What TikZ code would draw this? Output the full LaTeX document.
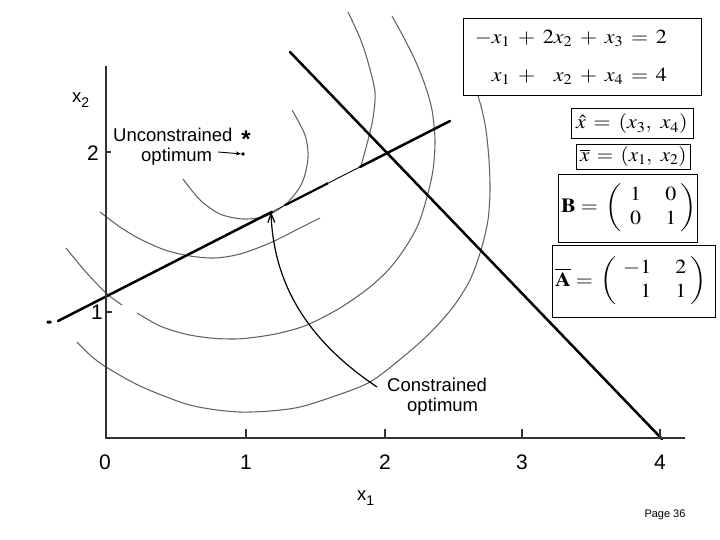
\documentclass[tikz,border=0pt]{standalone}
\usepackage{amsmath}
\usepackage{mathptmx}
\usepackage[no-math]{fontspec}
\usepackage{graphicx}
\newfontfamily\labfont{Liberation Sans}
\usetikzlibrary{arrows.meta}
\newcommand\eqgap{\hspace{7pt}}
\newcommand\vecgap{\hspace{7pt}}
\begin{document}
\begin{tikzpicture}[x=1pt,y=-1pt,
  arcline/.style={draw=black!62, line width=1.05pt},
  cline/.style={draw=black, line width=2.5pt, line cap=round},
  thinseg/.style={draw=black, line width=0.9pt},
  axisline/.style={draw=black!80, line width=1.4pt},
  lab/.style={font=\labfont\fontsize{18.5}{20}\selectfont, inner sep=0pt},
  ticklab/.style={font=\labfont\fontsize{21}{23}\selectfont, inner sep=0pt},
  box/.style={draw=black, line width=0.9pt, fill=white, inner sep=0pt},
  mathlab/.style={inner sep=0pt, font=\fontsize{20}{24}\selectfont}]
\useasboundingbox (0,0) rectangle (720,540);
\fill[white] (0,0) rectangle (720,540);

% contour arcs
\draw[arcline] plot[smooth] coordinates {(183,179) (200,200) (220,214) (243,219) (266,216) (287,203) (302,183) (308,158) (305,135) (292,110)};
\draw[arcline] plot[smooth] coordinates {(100,212) (120,227) (140,239) (165,250) (190,256) (215,258) (240,254) (270,243) (300,228) (320,218)};
\draw[arcline] plot[smooth] coordinates {(361,166) (368,140) (373,118) (375,92) (368,62) (360,38) (348,12)};
\draw[arcline] plot[smooth] coordinates {(66,248) (85,271) (106,293) (122,305)};
\draw[arcline] plot[smooth] coordinates {(137,313) (160,326) (185,334) (210,338) (235,339) (257,337) (280,333) (307,325) (340,308) (370,287) (390,268) (405,248) (418,225) (427,197) (433,170) (435,140) (432,110) (425,85) (415,60) (404,38) (392,16)};
\draw[arcline] plot[smooth] coordinates {(77,342) (90,355) (106,367) (140,386) (183,403) (210,409) (240,412) (270,411) (300,407) (335,396) (370,382) (403,357) (430,333) (453,307) (470,280) (481,250) (488,220) (490,190) (489,160) (486,130) (482,110) (478,96)};

% constraint lines
\coordinate (L1a) at (58,321);
\coordinate (L1b) at (272,211.8);
\coordinate (L1c) at (285,205.2);
\coordinate (L1d) at (328,183.2);
\coordinate (L1e) at (360,166.9);
\coordinate (L1f) at (450,121);
\draw[cline] (L1a) -- (L1b);
\draw[thinseg, line width=0.5pt] (L1b) -- (L1c);
\draw[cline, line width=2.2pt, line cap=butt] (L1c) -- (L1d);
\draw[thinseg] (L1d) -- (L1e);
\draw[cline] (L1e) -- (L1f);
\coordinate (L2a) at (290,52);
\coordinate (L2b) at (662,439);
\draw[cline] (L2a) -- (L2b);
\node[fill=black, inner sep=0pt, minimum width=5pt, minimum height=3pt, rounded corners=1pt] (ldot) at (49,322) {};

% axes
\coordinate (O) at (106,438);
\coordinate (Ytop) at (106,66);
\coordinate (Xend) at (685,438);
\draw[axisline] (Ytop) -- (O) -- (Xend);
\foreach \xx in {246,385,522,660} \draw[axisline, line width=1.1pt] (\xx,438) -- (\xx,429);
\draw[axisline, line width=1.1pt] (106,152) -- (111,152);
\draw[axisline, line width=1.1pt] (106,312) -- (112,312);

\node[ticklab] (t0) at (105,462) {0};
\node[ticklab] (t1) at (246,462) {1};
\node[ticklab] (t2) at (385,462) {2};
\node[ticklab] (t3) at (522,462) {3};
\node[ticklab] (t4) at (660,462) {4};
\node[ticklab] (ty2) at (93,153) {2};
\node[ticklab] (ty1) at (97,312) {1};
\node[lab, anchor=base west] (xlab2) at (72,103) {x\raisebox{-5pt}{\fontsize{14}{14}\selectfont 2}};
\node[lab, anchor=base west] (xlab1) at (357,500) {x\raisebox{-5pt}{\fontsize{14}{14}\selectfont 1}};

% optimum labels
\node[lab, anchor=base west, text depth=0pt] (uncon) at (113,142) {Unconstrained};
\node[anchor=base, inner sep=0pt, font=\labfont\bfseries\fontsize{24}{24}\selectfont] (star) at (246,148) {*};
\node[lab, anchor=base west, text height=11pt] (uoptlab) at (141,162) {optimum};
\node[circle, fill=black, inner sep=0pt, minimum size=3.6pt] (uopt) at (243,154) {};
\coordinate (uarr) at (218,152);
\draw[line width=0.9pt, -{Stealth[length=5pt,width=4pt]}] (uarr) -- (uopt);

\node[lab, anchor=base west, text depth=0pt] (con) at (387,391) {Constrained};
\node[lab, anchor=base west, text height=11pt] (conopt) at (407,411) {optimum};
\coordinate (conA) at (377,387);
\coordinate (conB) at (271,212);
\draw[black, line width=1.2pt, -{Straight Barb[length=9pt,width=7pt]}] (conA) .. controls (325,352) and (274,300) .. (conB);

% boxes on the right
\node[box, minimum width=238pt, minimum height=77pt] (eqbox) at (582,56.5) {};
\node[box, minimum width=122pt, minimum height=30pt] (xhatbox) at (632,123) {};
\node[box, minimum width=114pt, minimum height=25pt] (xbarbox) at (633,156.5) {};
\node[box, minimum width=139pt, minimum height=68pt] (Bbox) at (627.5,208) {};
\node[box, minimum width=163pt, minimum height=72pt] (Abox) at (633.5,281) {};

\node[mathlab, anchor=east] (eq1) at (667,38) {\scalebox{1.1}[1]{$-x_1\eqgap{+}\eqgap 2x_2\eqgap{+}\eqgap x_3\eqgap{=}\eqgap 2$}};
\node[mathlab, anchor=east] (eq2) at (667,76) {\scalebox{1.1}[1]{$x_1\eqgap{+}\eqgap\phantom{2}x_2\eqgap{+}\eqgap x_4\eqgap{=}\eqgap 4$}};
\node[mathlab, anchor=west] (xhat) at (576,124) {\scalebox{1.1}[1]{$\hat{x}\vecgap{=}\vecgap(x_3,\ x_4)$}};
\node[mathlab, anchor=west] (xbar) at (580,156.5) {\scalebox{1.05}[1]{$\overline{x}\vecgap{=}\vecgap(x_1,\ x_2)$}};
\node[mathlab, anchor=west] (Bm) at (561,208) {\scalebox{1.1}[1]{$\mathbf{B}\;{=}\;\left(\begin{array}{@{\hspace{8pt}}c@{\hspace{22pt}}c@{\hspace{4pt}}}1&0\\0&1\end{array}\right)$}};
\node[mathlab, anchor=west] (Am) at (555,281) {\scalebox{1.1}[1]{$\overline{\mathbf{A}}\;{=}\;\left(\begin{array}{@{\hspace{6pt}}r@{\hspace{22pt}}r@{\hspace{4pt}}}-1&2\\1&1\end{array}\right)$}};

\node[font=\labfont\fontsize{11}{12}\selectfont, inner sep=0pt] (page) at (665,515) {Page 36};
\end{tikzpicture}
\end{document}
